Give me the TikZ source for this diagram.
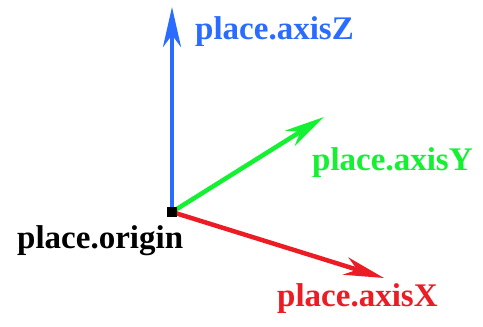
\documentclass[tikz,border=0pt]{standalone}
\usepackage{fontspec}
\setmainfont{Liberation Serif}
\usetikzlibrary{arrows.meta}
\definecolor{zblue}{RGB}{42,108,255}
\definecolor{ygreen}{RGB}{20,240,50}
\definecolor{xred}{RGB}{236,28,36}
\tikzset{
  axis/.style={line width=4.5pt,-{Stealth[length=40pt,width=18pt,inset=12pt]}},
  lbl/.style={font=\fontsize{33}{33}\selectfont\bfseries,inner sep=0pt,anchor=base west},
  orig/.style={fill=black,minimum width=10pt,minimum height=10pt,inner sep=0pt}
}
\begin{document}
\begin{tikzpicture}[x=1pt,y=-1pt]
\useasboundingbox (0,0) rectangle (483,327);
\coordinate (o) at (172,212);
\coordinate (z) at (172,7);
\coordinate (y) at (324,117);
\coordinate (x) at (384,278);
\draw[axis,zblue] (o) -- (z);
\draw[axis,ygreen] (o) -- (y);
\draw[axis,xred] (o) -- (x);
\node[orig] (O) at (o) {};
\node[lbl,text=zblue] (lz) at (195,39) {place.axisZ};
\node[lbl,text=ygreen] (ly) at (312,170) {place.axisY};
\node[lbl,text=xred] (lx) at (277,306) {place.axisX};
\node[lbl,text=black] (lo) at (17,248) {place.origin};
\end{tikzpicture}
\end{document}
